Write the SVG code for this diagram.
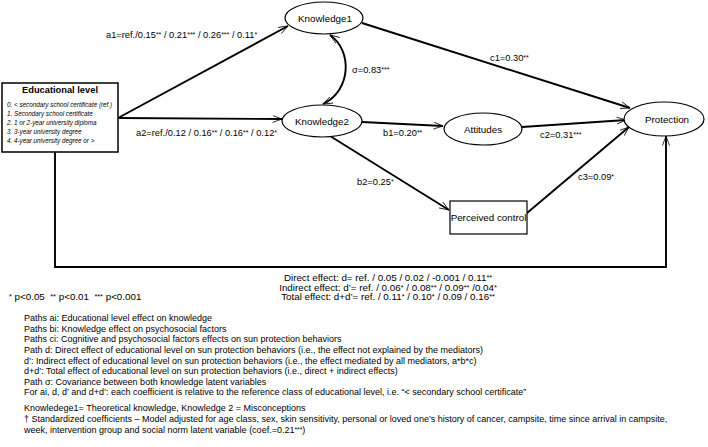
<svg xmlns="http://www.w3.org/2000/svg" width="708" height="447" viewBox="0 0 708 447">
<style>
text{font-family:"Liberation Sans",Arial,sans-serif;fill:#000}
.lbl{font-size:9.3px}
.nd{font-size:9.8px}
.it{font-size:6.3px;font-style:italic}
.ft{font-size:9px}
.ef{font-size:9.8px}
.s{font-size:75%;baseline-shift:1.5px}
.ln{fill:none;stroke:#000;stroke-width:1.9}
.sh{fill:#fff;stroke:#000;stroke-width:1.2}
</style>
<defs>
<marker id="ah" viewBox="0 0 10 8" refX="9.5" refY="4" markerWidth="10" markerHeight="8" markerUnits="userSpaceOnUse" orient="auto-start-reverse">
<path d="M0,0.5 L9.5,4 L0,7.5" fill="none" stroke="#000" stroke-width="0.8"/>
</marker>
</defs>
<rect width="708" height="447" fill="#fff"/>
<g id="connectors">
<line class="ln" x1="118" y1="118" x2="288" y2="26" marker-end="url(#ah)"/>
<line class="ln" x1="118" y1="118" x2="282" y2="119" marker-end="url(#ah)"/>
<line class="ln" x1="362" y1="23" x2="630" y2="108" marker-end="url(#ah)"/>
<path class="ln" d="M330,35 C352,50 352,90 323,104" marker-start="url(#ah)" marker-end="url(#ah)"/>
<line class="ln" x1="362" y1="122" x2="443" y2="126" marker-end="url(#ah)"/>
<line class="ln" x1="522" y1="127" x2="626" y2="120" marker-end="url(#ah)"/>
<line class="ln" x1="330" y1="136" x2="449" y2="210" marker-end="url(#ah)"/>
<line class="ln" x1="527" y1="213" x2="629" y2="127" marker-end="url(#ah)"/>
<polyline class="ln" points="55,152 55,267 666,267 666,136" marker-end="url(#ah)"/>
<text class="lbl" x="106" y="38">a1=ref./0.15<tspan class="s">**</tspan> / 0.21<tspan class="s">***</tspan> / 0.26<tspan class="s">***</tspan> / 0.11<tspan class="s">*</tspan></text>
<text class="lbl" x="136" y="136">a2=ref./0.12 / 0.16<tspan class="s">**</tspan> / 0.16<tspan class="s">**</tspan> / 0.12<tspan class="s">*</tspan></text>
<text class="lbl" x="352" y="73">σ=0.83<tspan class="s">***</tspan></text>
<text class="lbl" x="490" y="61">c1=0.30<tspan class="s">**</tspan></text>
<text class="lbl" x="383" y="136">b1=0.20<tspan class="s">**</tspan></text>
<text class="lbl" x="540" y="138">c2=0.31<tspan class="s">***</tspan></text>
<text class="lbl" x="357" y="185">b2=0.25<tspan class="s">*</tspan></text>
<text class="lbl" x="578" y="180">c3=0.09<tspan class="s">*</tspan></text>
</g>
<g id="edu">
<rect x="2" y="83" width="116" height="69" fill="#fff" stroke="#000" stroke-width="1.5"/>
<text x="60" y="93" text-anchor="middle" font-size="9.3" font-weight="bold">Educational level</text>
<text class="it" x="7" y="106.5">0. &lt; secondary school certificate (ref.)</text>
<text class="it" x="7" y="115.5">1. Secondary school certificate</text>
<text class="it" x="7" y="124.5">2. 1 or 2-year university diploma</text>
<text class="it" x="7" y="133.5">3. 3-year university degree</text>
<text class="it" x="7" y="142.5">4. 4-year university degree or &gt;</text>
</g>
<g id="knowledge1">
<ellipse class="sh" cx="324" cy="18" rx="39" ry="16"/>
<text class="nd" x="325" y="21.5" text-anchor="middle">Knowledge1</text>
</g>
<g id="knowledge2">
<ellipse class="sh" cx="322" cy="121" rx="40" ry="16"/>
<text class="nd" x="322" y="124.5" text-anchor="middle">Knowledge2</text>
</g>
<g id="attitudes">
<ellipse class="sh" cx="483" cy="129" rx="39" ry="16"/>
<text class="nd" x="483" y="132.5" text-anchor="middle">Attitudes</text>
</g>
<g id="protection">
<ellipse class="sh" cx="664" cy="119" rx="40" ry="17"/>
<text class="nd" x="667" y="122.5" text-anchor="middle">Protection</text>
</g>
<g id="perceived">
<rect class="sh" x="450" y="201" width="77" height="33"/>
<text class="nd" x="488.5" y="221" text-anchor="middle">Perceived control</text>
</g>
<g id="notes">
<text class="ef" x="388" y="281" text-anchor="middle">Direct effect: d= ref. / 0.05 / 0.02 / -0.001 / 0.11<tspan class="s">**</tspan></text>
<text class="ef" x="388" y="290.5" text-anchor="middle">Indirect effect: d’= ref. / 0.06<tspan class="s">*</tspan> / 0.08<tspan class="s">**</tspan> / 0.09<tspan class="s">**</tspan> /0.04<tspan class="s">*</tspan></text>
<text class="ef" x="388" y="300" text-anchor="middle">Total effect: d+d’= ref. / 0.11<tspan class="s">*</tspan> / 0.10<tspan class="s">*</tspan> / 0.09 / 0.16<tspan class="s">**</tspan></text>
<text class="ef" x="9" y="300"><tspan class="s">*</tspan> p&lt;0.05 &#160;<tspan class="s">**</tspan> p&lt;0.01 &#160;<tspan class="s">***</tspan> p&lt;0.001</text>
<text class="ft" x="24" y="321.2">Paths ai: Educational level effect on knowledge</text>
<text class="ft" x="24" y="331.8">Paths bi: Knowledge effect on psychosocial factors</text>
<text class="ft" x="24" y="342.4">Paths ci: Cognitive and psychosocial factors effects on sun protection behaviors</text>
<text class="ft" x="24" y="353">Path d: Direct effect of educational level on sun protection behaviors (i.e., the effect not explained by the mediators)</text>
<text class="ft" x="24" y="363.6">d’: Indirect effect of educational level on sun protection behaviors (i.e., the effect mediated by all mediators, a*b*c)</text>
<text class="ft" x="24" y="374.2">d+d’: Total effect of educational level on sun protection behaviors (i.e., direct + indirect effects)</text>
<text class="ft" x="24" y="384.8">Path σ: Covariance between both knowledge latent variables</text>
<text class="ft" x="24" y="395.4">For ai, d, d’ and d+d’: each coefficient is relative to the reference class of educational level, i.e. “&lt; secondary school certificate”</text>
<text class="ft" x="24" y="410.5">Knowledege1= Theoretical knowledge, Knowledge 2 = Misconceptions</text>
<text class="ft" x="24" y="421.8">† Standardized coefficients – Model adjusted for age class, sex, skin sensitivity, personal or loved one’s history of cancer, campsite, time since arrival in campsite,</text>
<text class="ft" x="24" y="432.8">week, intervention group and social norm latent variable (coef.=0.21<tspan class="s">***</tspan>)</text>
</g>
</svg>
